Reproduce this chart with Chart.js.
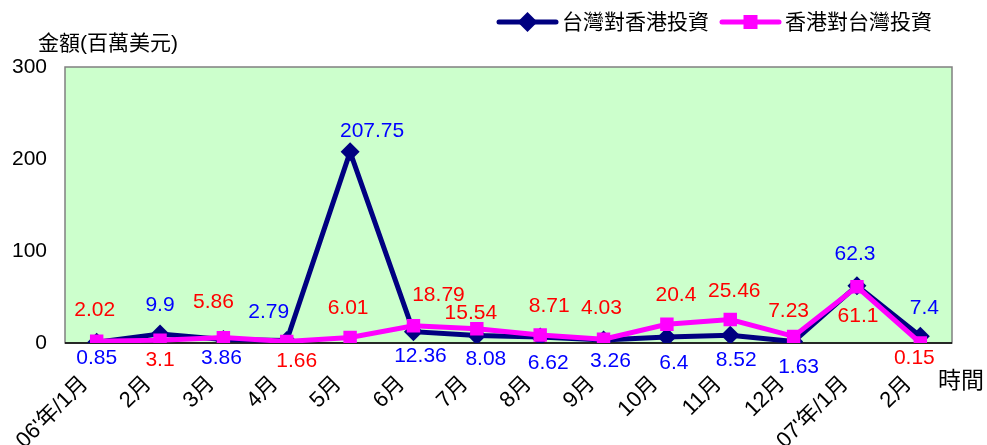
<!DOCTYPE html>
<html>
<head>
<meta charset="utf-8">
<script src="https://cdn.jsdelivr.net/npm/chart.js@4.4.0/dist/chart.umd.min.js"></script>
<style>
  html, body { margin: 0; padding: 0; background: #fff; }
</style>
</head>
<body>
<canvas id="investChart" width="987" height="445"></canvas>
<script>
const months = ["06'年/1月", '2月', '3月', '4月', '5月', '6月', '7月', '8月', '9月', '10月', '11月', '12月', "07'年/1月", '2月'];
const seriesNames = ['台灣對香港投資', '香港對台灣投資'];
const twToHk = [0.85, 9.9, 3.86, 2.79, 207.75, 12.36, 8.08, 6.62, 3.26, 6.4, 8.52, 1.63, 62.3, 7.4];
const hkToTw = [2.02, 3.1, 5.86, 1.66, 6.01, 18.79, 15.54, 8.71, 4.03, 20.4, 25.46, 7.23, 61.1, 0.15];
const yTicks = [0, 100, 200, 300];

// value label nudges (px) relative to each point
const twLabelShift = [[0, 16], [0, -29], [-2, 19], [-18, -28], [22, -21], [7, 25], [9, 24],
                      [8, 26], [7, 21], [7, 26], [6, 25], [5, 26], [-2, -31], [4, -28]];
const hkLabelShift = [[-2, -31], [0, 20], [-10, -35], [10, 20], [-2, -29], [25, -31], [-6, -16],
                      [9, -29], [-2, -31], [9, -29], [4, -28], [-5, -25], [1, 29], [-6, 15]];

const NAVY = '#000080';
const PINK = '#FF00FF';
const FONT = '"Liberation Sans", Arial, "Noto Sans CJK TC", sans-serif';

const plotFrame = {
    id: 'plotFrame',
    beforeDatasetsDraw(chart) {
        const { ctx, chartArea: a } = chart;
        ctx.save();
        ctx.fillStyle = '#CCFFCC';
        ctx.fillRect(a.left, a.top, a.right - a.left, a.bottom - a.top);
        ctx.strokeStyle = '#808080';
        ctx.lineWidth = 1.5;
        ctx.strokeRect(a.left, a.top, a.right - a.left, a.bottom - a.top);
        ctx.strokeStyle = '#000';
        ctx.beginPath();
        ctx.moveTo(a.left, a.bottom);
        ctx.lineTo(a.right, a.bottom);
        ctx.stroke();
        ctx.restore();
    }
};

const valueLabels = {
    id: 'valueLabels',
    afterDatasetsDraw(chart) {
        const { ctx } = chart;
        const shifts = [twLabelShift, hkLabelShift];
        const colors = ['#0000FF', '#FF0000'];
        ctx.save();
        ctx.font = '21px ' + FONT;
        ctx.textAlign = 'center';
        ctx.textBaseline = 'middle';
        chart.data.datasets.forEach((ds, di) => {
            ctx.fillStyle = colors[di];
            chart.getDatasetMeta(di).data.forEach((pt, i) => {
                const [dx, dy] = shifts[di][i];
                ctx.fillText(String(ds.data[i]), pt.x + dx, pt.y + dy);
            });
        });
        ctx.restore();
    }
};

const extraText = {
    id: 'extraText',
    afterDraw(chart) {
        const { ctx } = chart;
        ctx.save();
        ctx.fillStyle = '#000';
        ctx.textBaseline = 'middle';
        ctx.textAlign = 'left';
        ctx.font = '21px ' + FONT;
        ctx.fillText('金額(百萬美元)', 38, 44);
        ctx.font = '23px ' + FONT;
        ctx.fillText('時間', 938, 382);

        // legend: line + marker + name
        const items = [
            { x: 499, color: NAVY, shape: 'diamond' },
            { x: 722, color: PINK, shape: 'square' }
        ];
        const y = 22;
        ctx.font = '21px ' + FONT;
        items.forEach((it, k) => {
            ctx.strokeStyle = it.color;
            ctx.fillStyle = it.color;
            ctx.lineWidth = 5;
            ctx.lineCap = 'round';
            ctx.beginPath();
            ctx.moveTo(it.x, y);
            ctx.lineTo(it.x + 57, y);
            ctx.stroke();
            const cx = it.x + 28.5;
            ctx.beginPath();
            if (it.shape === 'diamond') {
                ctx.moveTo(cx, y - 10);
                ctx.lineTo(cx + 10, y);
                ctx.lineTo(cx, y + 10);
                ctx.lineTo(cx - 10, y);
                ctx.closePath();
                ctx.fill();
            } else {
                ctx.fillRect(cx - 7, y - 7, 14, 14);
            }
            ctx.fillStyle = '#000';
            ctx.fillText(seriesNames[k], it.x + 63, y + 1);
        });
        ctx.restore();
    }
};

new Chart(document.getElementById('investChart'), {
    type: 'line',
    data: {
        labels: months,
        datasets: [{
            label: seriesNames[0],
            data: twToHk,
            borderColor: NAVY,
            backgroundColor: NAVY,
            borderWidth: 5,
            pointStyle: 'rectRot',
            pointRadius: 9.5,
            pointBorderWidth: 0,
            order: 1,
            tension: 0
        }, {
            label: seriesNames[1],
            data: hkToTw,
            borderColor: PINK,
            backgroundColor: PINK,
            borderWidth: 5,
            pointStyle: 'rect',
            pointRadius: 9.5,
            pointBorderWidth: 0,
            order: 0,
            tension: 0
        }]
    },
    options: {
        responsive: false,
        animation: false,
        layout: { padding: { top: 67, right: 35, left: 0, bottom: 0 } },
        plugins: {
            legend: { display: false },
            tooltip: { enabled: false }
        },
        scales: {
            x: {
                offset: true,
                grid: { display: false },
                border: { display: false },
                ticks: {
                    color: '#000',
                    font: { size: 22, family: FONT },
                    minRotation: 45,
                    maxRotation: 45,
                    padding: 20,
                    labelOffset: -12,
                    autoSkip: false
                },
                afterFit(scale) { scale.height = 102; }
            },
            y: {
                min: 0,
                max: 300,
                grid: { display: false },
                border: { display: false },
                afterBuildTicks(scale) { scale.ticks = yTicks.map(v => ({ value: v })); },
                ticks: {
                    color: '#000',
                    font: { size: 21, family: FONT },
                    padding: 10
                },
                afterFit(scale) { scale.width = 65; }
            }
        }
    },
    plugins: [plotFrame, valueLabels, extraText]
});
</script>
</body>
</html>
